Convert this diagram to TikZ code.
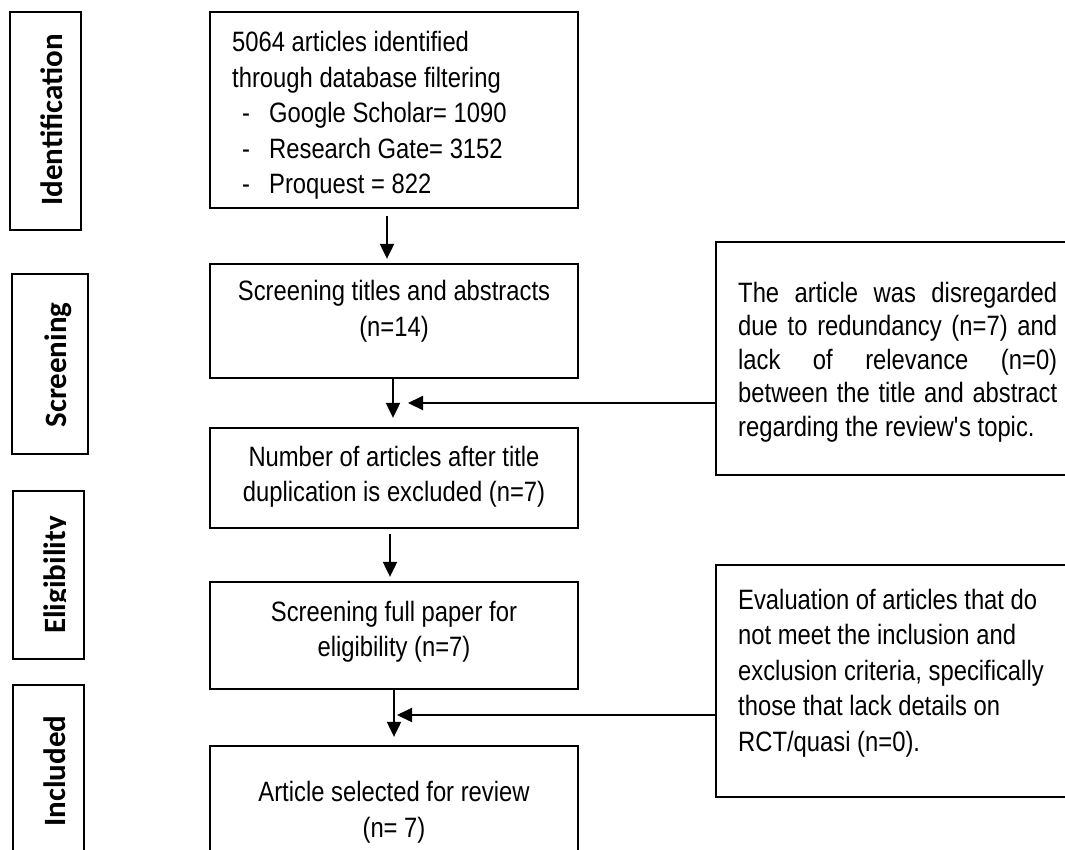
\documentclass[tikz,border=0pt]{standalone}
\usepackage{fontspec}
\setmainfont{Liberation Sans}[FakeStretch=0.85]
\newfontfamily\labfont{Carlito}
\usetikzlibrary{arrows.meta}
\tikzset{
  box/.style={draw, line width=2.3pt, rectangle, inner sep=0pt},
  stagetext/.style={rotate=90, anchor=base, inner sep=0pt, font=\labfont\bfseries\fontsize{31}{36}\selectfont},
  txt/.style={inner sep=0pt, font=\fontsize{28}{35.5}\selectfont},
  arr/.style={line width=2pt, -{Triangle[length=15pt,width=14pt]}},
}
\begin{document}
\begin{tikzpicture}[x=1pt,y=-1pt]
\path[use as bounding box, clip] (0,0) rectangle (1065,849);
\fill[white] (0,0) rectangle (1065,849);

% stage boxes
\node[box, minimum width=71pt, minimum height=218pt] (s1) at (45.5,121) {};
\node[box, minimum width=76pt, minimum height=180pt] (s2) at (50,364) {};
\node[box, minimum width=71pt, minimum height=168pt] (s3) at (48.5,575) {};
\node[box, minimum width=71pt, minimum height=215pt] (s4) at (48.5,792.5) {};
\node[stagetext] (l1) at (62,120) {Identification};
\node[stagetext] (l2) at (66.5,365) {Screening};
\begin{scope}
  \clip (13,491) rectangle (65.3,659);
  \node[stagetext] (l3) at (65,575) {Eligibility};
\end{scope}
\node[stagetext] (l4) at (65,771) {Included};

% main boxes
\node[box, minimum width=368pt, minimum height=196pt] (b1) at (394,110) {};
\node[box, minimum width=368pt, minimum height=114pt] (b2) at (394,321) {};
\node[box, minimum width=368pt, minimum height=100pt] (b3) at (394,478) {};
\node[box, minimum width=368pt, minimum height=107pt] (b4) at (394,635.5) {};
\node[box, minimum width=368pt, minimum height=154pt] (b5) at (394,823) {};

% side boxes
\node[box, minimum width=384pt, minimum height=233pt] (r1) at (908,358.5) {};
\node[box, minimum width=384pt, minimum height=232pt] (r2) at (908,681) {};

% texts
\node[txt, anchor=north west, align=left] (t1) at (232,31.5)
  {5064 articles identified\\through database filtering\\
   \makebox[37pt][l]{\hspace*{10pt}-}Google Scholar= 1090\\
   \makebox[37pt][l]{\hspace*{10pt}-}Research Gate= 3152\\
   \makebox[37pt][l]{\hspace*{10pt}-}Proquest = 822};
\node[txt, align=center] (t2) at (394,311) {Screening titles and abstracts\\(n=14)};
\node[txt, align=center] (t3) at (394,477) {Number of articles after title\\duplication is excluded (n=7)};
\node[txt, align=center] (t4) at (394,631.5) {Screening full paper for\\eligibility (n=7)};
\node[txt, align=center] (t5) at (394,812) {Article selected for review\\(n= 7)};
\node[txt, anchor=west, align=left, font=\fontsize{28}{33.5}\selectfont] (t6) at (738,362)
  {\makebox[319pt][s]{The article was disregarded}\\
   \makebox[319pt][s]{due to redundancy (n=7) and}\\
   \makebox[319pt][s]{lack of relevance (n=0)}\\
   \makebox[319pt][s]{between the title and abstract}\\
   regarding the review\textquotesingle s topic.};
\node[txt, anchor=west, align=left] (t7) at (738,673)
  {Evaluation of articles that do\\not meet the inclusion and\\exclusion criteria, specifically\\those that lack details on\\RCT/quasi (n=0).};

% arrows
\draw[arr, shorten <=7pt, shorten >=4pt] ([xshift=-7pt]b1.south) -- ([xshift=-7pt]b2.north);
\draw[arr, shorten >=9pt] ([xshift=-1pt]b2.south) -- ([xshift=-1pt]b3.north);
\draw[arr, shorten <=5pt, shorten >=4pt] ([xshift=-4pt]b3.south) -- ([xshift=-4pt]b4.north);
\draw[arr, shorten >=8pt] (b4.south) -- (b5.north);

\coordinate (m1) at (408,403);
\draw[arr] (r1.west |- m1) -- (m1);
\coordinate (m2) at (397,715);
\draw[arr] (r2.west |- m2) -- (m2);
\end{tikzpicture}
\end{document}
